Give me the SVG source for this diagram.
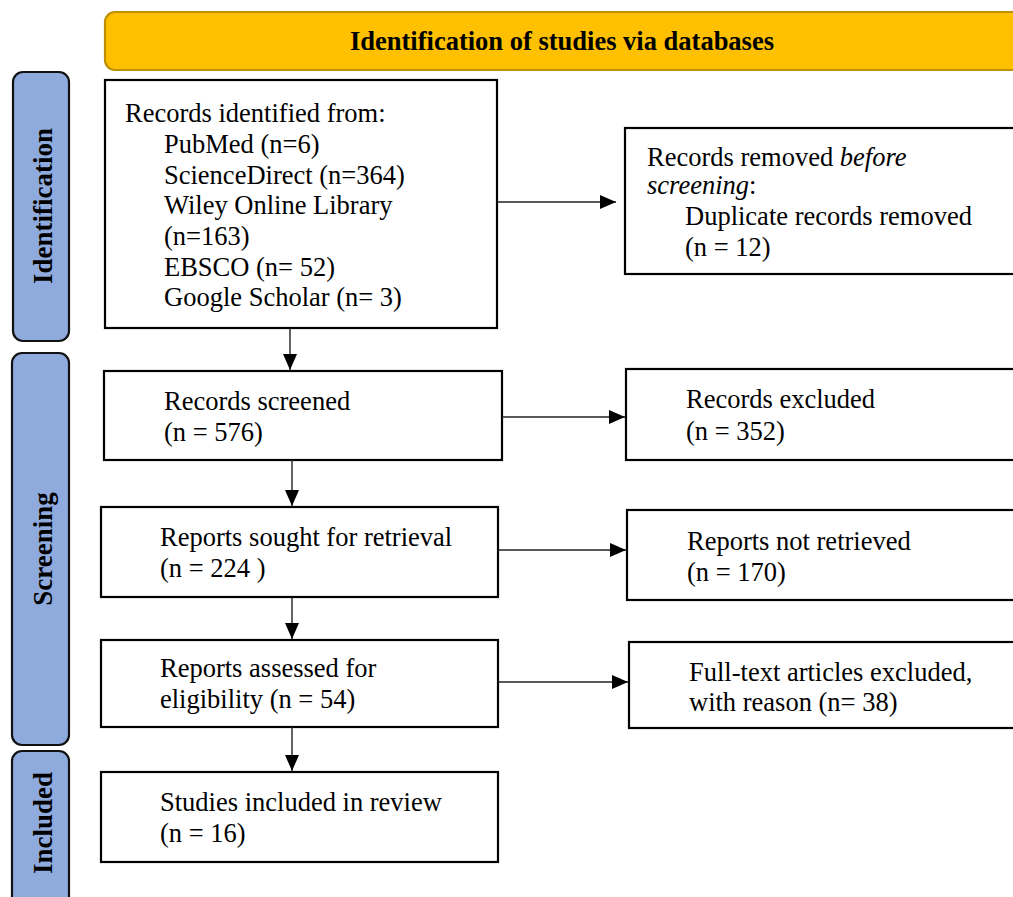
<svg xmlns="http://www.w3.org/2000/svg" width="1013" height="897" viewBox="0 0 1013 897">
<style>
.box{fill:#fff;stroke:#000;stroke-width:2.2}
.side{fill:#8FAADC;stroke:#111;stroke-width:2.2}
.t{font-family:"Liberation Serif","Times New Roman",serif;font-size:26.5px;fill:#000}
.sl{font-family:"Liberation Serif","Times New Roman",serif;font-size:27px;font-weight:bold;fill:#000}
.hd{font-family:"Liberation Serif","Times New Roman",serif;font-size:26.5px;font-weight:bold;fill:#000}
.c{stroke:#222;stroke-width:1.4;fill:none}
</style>
<defs>
<marker id="ah" markerWidth="16" markerHeight="14" refX="16" refY="7" orient="auto" markerUnits="userSpaceOnUse" viewBox="0 0 16 14">
<path d="M0,0 L16,7 L0,14 Z" fill="#000"/>
</marker>
</defs>
<g id="header">
<rect x="105" y="12" width="930" height="58" rx="10" ry="10" fill="#FFC000" stroke="#BF9000" stroke-width="2.2"/>
<text class="hd" x="562" y="50" text-anchor="middle">Identification of studies via databases</text>
</g>
<g id="side-identification">
<rect class="side" x="13" y="72" width="56" height="269" rx="10" ry="10"/>
<text class="sl" transform="translate(52,206) rotate(-90)" text-anchor="middle">Identification</text>
</g>
<g id="side-screening">
<rect class="side" x="12" y="353" width="57" height="392" rx="10" ry="10"/>
<text class="sl" transform="translate(52,549) rotate(-90)" text-anchor="middle">Screening</text>
</g>
<g id="side-included">
<rect class="side" x="12" y="751" width="57" height="160" rx="10" ry="10"/>
<text class="sl" transform="translate(52,823) rotate(-90)" text-anchor="middle">Included</text>
</g>
<g id="records-identified">
<rect class="box" x="105" y="80" width="392" height="248"/>
<text class="t" x="125" y="122">Records identified from:</text>
<text class="t" x="164" y="153">PubMed (n=6)</text>
<text class="t" x="164" y="184">ScienceDirect (n=364)</text>
<text class="t" x="164" y="214">Wiley Online Library</text>
<text class="t" x="164" y="245">(n=163)</text>
<text class="t" x="164" y="276">EBSCO (n= 52)</text>
<text class="t" x="164" y="306">Google Scholar (n= 3)</text>
</g>
<g id="records-removed">
<rect class="box" x="625" y="128" width="400" height="146"/>
<text class="t" x="647" y="166">Records removed <tspan font-style="italic">before</tspan></text>
<text class="t" x="647" y="194"><tspan font-style="italic">screening</tspan>:</text>
<text class="t" x="685" y="225">Duplicate records removed</text>
<text class="t" x="685" y="256">(n = 12)</text>
</g>
<g id="records-screened">
<rect class="box" x="104" y="371" width="398" height="89"/>
<text class="t" x="164" y="410">Records screened</text>
<text class="t" x="164" y="441">(n = 576)</text>
</g>
<g id="records-excluded">
<rect class="box" x="626" y="369" width="400" height="91"/>
<text class="t" x="686" y="408">Records excluded</text>
<text class="t" x="686" y="440">(n = 352)</text>
</g>
<g id="reports-sought">
<rect class="box" x="101" y="507" width="397" height="90"/>
<text class="t" x="160" y="546">Reports sought for retrieval</text>
<text class="t" x="160" y="577">(n = 224 )</text>
</g>
<g id="reports-not-retrieved">
<rect class="box" x="627" y="510" width="400" height="90"/>
<text class="t" x="687" y="550">Reports not retrieved</text>
<text class="t" x="687" y="581">(n = 170)</text>
</g>
<g id="reports-assessed">
<rect class="box" x="101" y="640" width="397" height="87"/>
<text class="t" x="160" y="677">Reports assessed for</text>
<text class="t" x="160" y="708">eligibility (n = 54)</text>
</g>
<g id="fulltext-excluded">
<rect class="box" x="629" y="642" width="400" height="86"/>
<text class="t" x="689" y="681">Full-text articles excluded,</text>
<text class="t" x="689" y="711">with reason (n= 38)</text>
</g>
<g id="studies-included">
<rect class="box" x="101" y="772" width="397" height="90"/>
<text class="t" x="160" y="811">Studies included in review</text>
<text class="t" x="160" y="842">(n = 16)</text>
</g>
<g id="connectors">
<line class="c" x1="497" y1="202" x2="616" y2="202" marker-end="url(#ah)"/>
<line class="c" x1="290" y1="328" x2="290" y2="370" marker-end="url(#ah)"/>
<line class="c" x1="502" y1="417" x2="625" y2="417" marker-end="url(#ah)"/>
<line class="c" x1="292" y1="460" x2="292" y2="506" marker-end="url(#ah)"/>
<line class="c" x1="498" y1="550" x2="626" y2="550" marker-end="url(#ah)"/>
<line class="c" x1="292" y1="597" x2="292" y2="639" marker-end="url(#ah)"/>
<line class="c" x1="498" y1="682" x2="628" y2="682" marker-end="url(#ah)"/>
<line class="c" x1="292" y1="727" x2="292" y2="771" marker-end="url(#ah)"/>
</g>
</svg>
